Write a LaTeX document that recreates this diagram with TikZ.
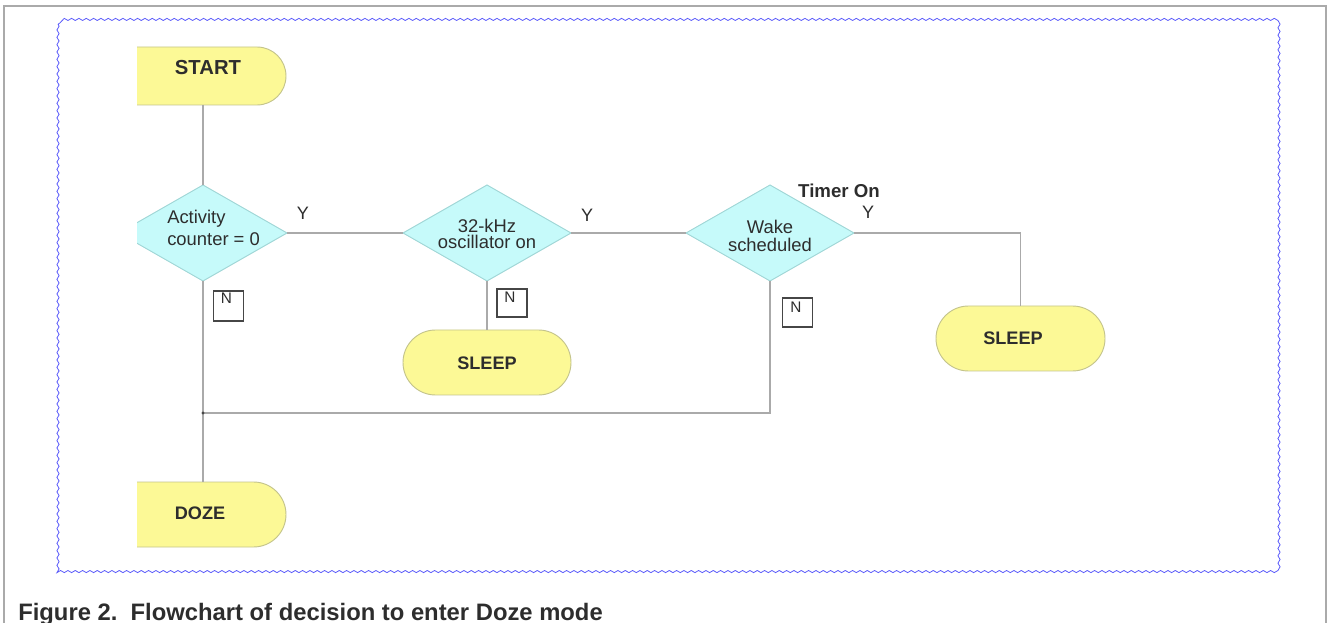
\documentclass[tikz,border=0pt]{standalone}
\usepackage{fontspec}
\setmainfont{Liberation Sans}
\usetikzlibrary{shapes.geometric,shapes.misc,decorations.pathmorphing}
\definecolor{termfill}{RGB}{252,249,150}
\definecolor{termline}{RGB}{196,196,140}
\definecolor{diafill}{RGB}{198,250,250}
\definecolor{dialine}{RGB}{160,214,214}
\definecolor{linec}{RGB}{170,170,170}
\definecolor{txtc}{RGB}{45,45,45}
\definecolor{wavec}{RGB}{90,90,250}
\definecolor{framec}{RGB}{170,170,170}
\definecolor{nboxc}{RGB}{70,70,70}
\tikzset{
  conn/.style={draw=linec, line width=1.1pt},
  term/.style={rounded rectangle, draw=termline, fill=termfill, line width=0.7pt, inner sep=0pt, outer sep=0pt, minimum height=48.75pt},
  halfterm/.style={term, rounded rectangle left arc=none, minimum width=113.25pt},
  fullterm/.style={term, minimum width=126pt},
  dia/.style={diamond, draw=dialine, fill=diafill, line width=0.7pt, inner sep=0pt, outer sep=0pt, minimum width=126pt, minimum height=72pt},
  termtxt/.style={inner sep=0pt, text=txtc, font=\bfseries\fontsize{13.6}{16}\selectfont},
  diatxt/.style={inner sep=0pt, text=txtc, font=\fontsize{13.8}{16}\selectfont},
  ylab/.style={inner sep=0pt, text=txtc, font=\fontsize{13.5}{16}\selectfont},
  nbox/.style={draw=nboxc, line width=1.3pt, inner sep=0pt, minimum width=22.5pt, minimum height=22pt},
  nlab/.style={inner sep=0pt, text=txtc, font=\fontsize{11.5}{13}\selectfont},
  jdot/.style={fill=nboxc},
}
\begin{document}
\begin{tikzpicture}[x=0.75pt,y=-0.75pt]
\useasboundingbox (0,0) rectangle (1328,623);
% outer frame
\draw[framec, line width=1pt] (4,623) -- (4,6) -- (1326,6) -- (1326,623);
% wavy blue border
\draw[wavec, line width=0.6pt, decorate, decoration={snake, segment length=5.5pt, amplitude=0.8pt}] (58,24) rectangle (1278,572);

% left shapes, clipped at the left edge
\begin{scope}
\clip (137,0) rectangle (1328,623);
\node[halfterm, minimum height=43.5pt] (start) at (210.5,76) {};
\node[dia] (d1) at (203,233) {};
\node[halfterm] (doze) at (210.5,514.5) {};
\end{scope}

\node[dia] (d2) at (487,233) {};
\node[dia] (d3) at (770,233) {};
\node[fullterm] (sleepA) at (487,362.5) {};
\node[fullterm, minimum width=126.75pt] (sleepB) at (1020.5,338.5) {};

% texts
\node[termtxt, font=\bfseries\fontsize{15.2}{18}\selectfont] (tstart) at (208,68) {START};
\node[termtxt] (tdoze) at (200,513) {DOZE};
\node[termtxt] (tsleepA) at (487,363) {SLEEP};
\node[termtxt] (tsleepB) at (1013,338) {SLEEP};
\node[diatxt, align=left, anchor=west, font=\fontsize{13.8}{16.5}\selectfont] (td1) at (167,228) {Activity\\counter = 0};
\node[diatxt, align=center, font=\fontsize{13.8}{12.5}\selectfont] (td2) at (487,234) {32-kHz\\oscillator on};
\node[diatxt, align=center, font=\fontsize{13.8}{13.8}\selectfont] (td3) at (770,236) {Wake\\scheduled};
\node[ylab] (y1) at (303,213) {Y};
\node[ylab] (y2) at (587,215) {Y};
\node[ylab] (y3) at (868,212) {Y};
\node[ylab, font=\bfseries\fontsize{14}{16}\selectfont] (timer) at (839,191) {Timer On};

% N boxes
\node[nbox] (nb1) at (228.5,306) {};
\node[nlab] (n1) at (226.5,298.5) {N};
\node[nbox, minimum height=21pt] (nb2) at (512,303) {};
\node[nlab] (n2) at (510,297.5) {N};
\node[nbox] (nb3) at (797.5,312.5) {};
\node[nlab] (n3) at (796,307) {N};

% connectors
\coordinate (j) at (203,413);
\draw[conn] (start.south -| d1.north) -- (d1.north);
\draw[conn] (d1.east) -- (d2.west);
\draw[conn] (d2.east) -- (d3.west);
\draw[conn] (d3.east) -| (sleepB.north);
\draw[conn] (d2.south) -- (sleepA.north);
\draw[conn] (d1.south) -- (d1.south |- doze.north);
\draw[conn] (d3.south) |- (j);
\fill[jdot] (j) circle (1.3pt);

% caption
\node[anchor=base west, inner sep=0pt, text=txtc, font=\bfseries\fontsize{17.85}{20}\selectfont] (cap) at (18,620) {Figure 2.\ \ Flowchart of decision to enter Doze mode};
\end{tikzpicture}
\end{document}
